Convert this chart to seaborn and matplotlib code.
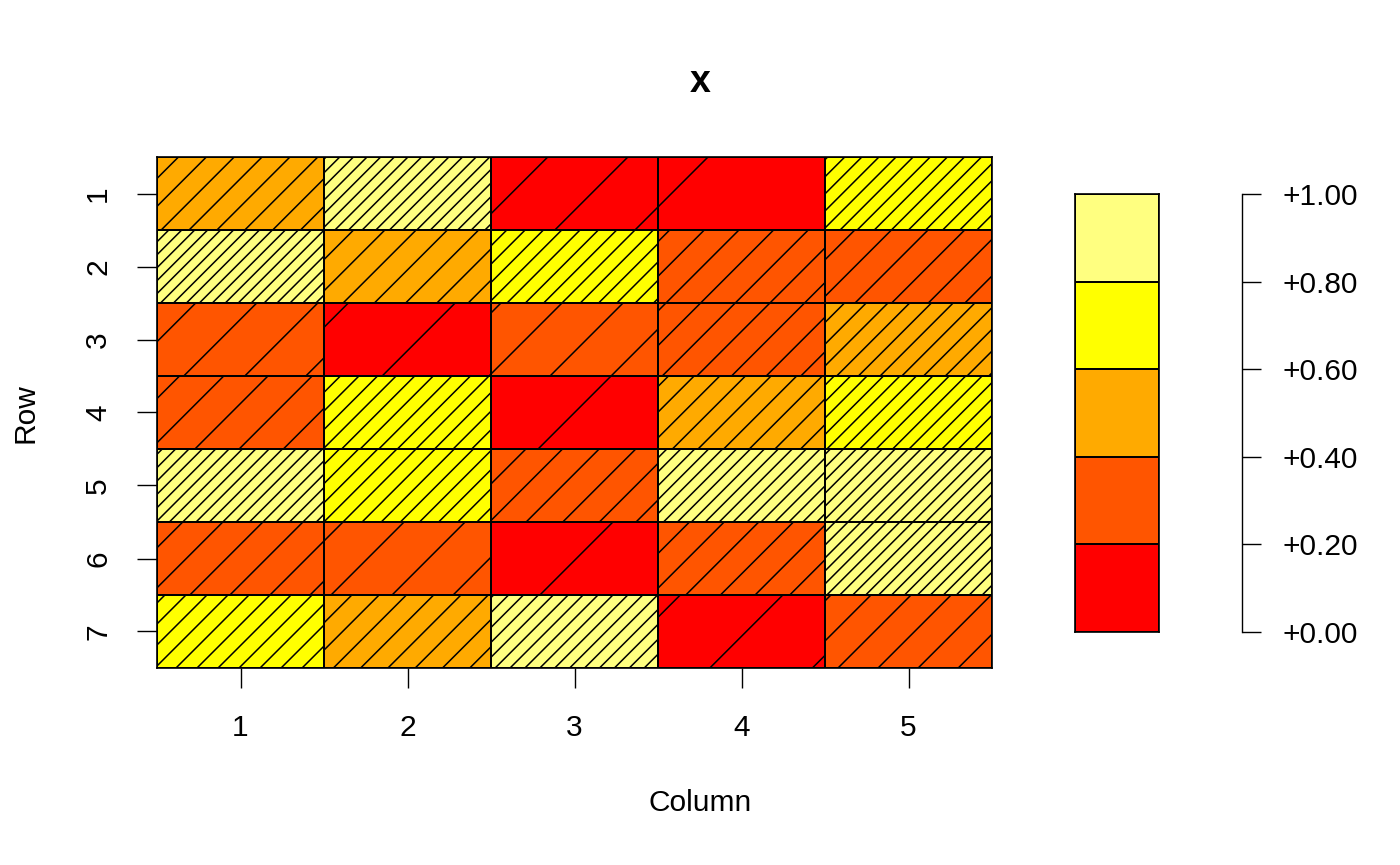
import numpy as np
import pandas as pd
import matplotlib
matplotlib.use("Agg")
import matplotlib.pyplot as plt
from matplotlib.colors import ListedColormap
from matplotlib.collections import LineCollection
import seaborn as sns

# valores de la matriz (filas 1..7, columnas 1..5)
rows = [1, 2, 3, 4, 5, 6, 7]
cols = [1, 2, 3, 4, 5]
row1 = [0.46, 0.94, 0.16, 0.05, 0.75]
row2 = [0.99, 0.41, 0.70, 0.37, 0.35]
row3 = [0.21, 0.12, 0.21, 0.37, 0.59]
row4 = [0.29, 0.69, 0.105, 0.50, 0.78]
row5 = [0.96, 0.67, 0.35, 0.92, 0.99]
row6 = [0.32, 0.21, 0.095, 0.37, 0.99]
row7 = [0.61, 0.47, 0.86, 0.125, 0.32]
breaks = [0.0, 0.2, 0.4, 0.6, 0.8, 1.0]
key_labels = ['+0.00', '+0.20', '+0.40', '+0.60', '+0.80', '+1.00']
heat = ['#FF0000', '#FF5500', '#FFAA00', '#FFFF00', '#FFFF80']

data = pd.DataFrame([row1, row2, row3, row4, row5, row6, row7], index=rows, columns=cols)

sns.set_style('white')
plt.rcParams['font.family'] = ['Liberation Sans', 'DejaVu Sans']
plt.rcParams.update({'text.color': 'black', 'axes.labelcolor': 'black',
                     'xtick.color': 'black', 'ytick.color': 'black',
                     'axes.edgecolor': 'black'})

W, H = 1400, 865
fig = plt.figure(figsize=(W / 100, H / 100), dpi=100)

# posicion del panel principal en pixeles
x0, x1, y0, y1 = 157, 992, 157, 668
ax = fig.add_axes([x0 / W, 1 - y1 / H, (x1 - x0) / W, (y1 - y0) / H])
cmap = ListedColormap(heat)
sns.heatmap(data, ax=ax, cmap=cmap, vmin=0, vmax=1, cbar=False,
            linewidths=1.2, linecolor='black')
for s in ax.spines.values():
    s.set_visible(True)
    s.set_linewidth(1.2)
    s.set_color('black')

# rayado: densidad proporcional al valor
cw = (x1 - x0) / len(cols)
ch = (y1 - y0) / len(rows)
k = 0.078  # lineas por pixel por unidad de valor
segs = []
for i in range(len(rows)):
    for j in range(len(cols)):
        v = data.iat[i, j]
        S = 1.0 / (k * v)
        # origen global de la rejilla de lineas
        px = x0 + j * cw
        py = (H - y1) + (len(rows) - 1 - i) * ch
        base = (px - py) % S
        c = -base - S * np.ceil(ch / S + 1)
        while c < cw:
            u1, u2 = max(0.0, c), min(cw, c + ch)
            if u2 > u1:
                t1, t2 = u1 - c, u2 - c
                segs.append([(j + u1 / cw, i + 1 - t1 / ch),
                             (j + u2 / cw, i + 1 - t2 / ch)])
            c += S
ax.add_collection(LineCollection(segs, colors='black', linewidths=1.1))

ax.set_xticks(np.arange(len(cols)) + 0.5)
ax.set_xticklabels([str(c) for c in cols])
ax.set_yticks(np.arange(len(rows)) + 0.5)
ax.set_yticklabels([str(r) for r in rows], rotation=90, va='center')
ax.tick_params(axis='both', length=14.4, width=1.0, labelsize=21.5,
               bottom=True, left=True, color='black', labelcolor='black')
ax.tick_params(axis='x', pad=19)
ax.tick_params(axis='y', pad=18)
ax.set_xlabel('')
ax.set_ylabel('')

# leyenda de colores
cax = fig.add_axes([1075 / W, 1 - 632 / H, 84 / W, 438 / H])
key = pd.DataFrame({'k': [(breaks[n] + breaks[n + 1]) / 2 for n in range(len(heat))][::-1]})
sns.heatmap(key, ax=cax, cmap=cmap, vmin=0, vmax=1, cbar=False,
            linewidths=1.2, linecolor='black', xticklabels=False, yticklabels=False)
for s in cax.spines.values():
    s.set_visible(True)
    s.set_linewidth(1.2)
    s.set_color('black')

kax = fig.add_axes([1200 / W, 1 - 632 / H, 42 / W, 438 / H])
kax.set_ylim(0, 1)
kax.patch.set_visible(False)
for name, s in kax.spines.items():
    s.set_visible(name == 'right')
kax.spines['right'].set_linewidth(1.0)
kax.spines['right'].set_color('black')
kax.set_xticks([])
kax.yaxis.tick_right()
kax.set_yticks(breaks)
kax.set_yticklabels(key_labels)
kax.tick_params(axis='y', length=14, width=1.0, labelsize=21.5, pad=15,
                direction='out', color='black', labelcolor='black')

fig.text(0.5, 1 - 82 / H, 'x', fontsize=27, fontweight='bold', ha='center', va='center', color='black')
fig.text(700 / W, 1 - 803 / H, 'Column', fontsize=21.5, ha='center', va='center', color='black')
fig.text(25 / W, 1 - 413 / H, 'Row', fontsize=21.5, ha='center', va='center', rotation=90, color='black')

fig.savefig('out.png', dpi=100)
